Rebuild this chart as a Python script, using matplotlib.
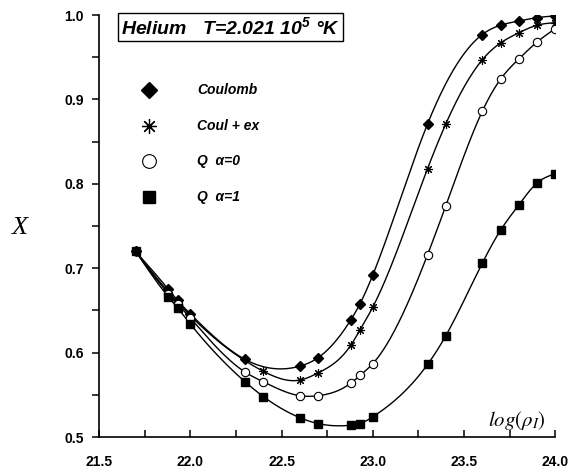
import numpy as np
import matplotlib
matplotlib.use("Agg")
import matplotlib.pyplot as plt
from matplotlib.ticker import MultipleLocator

plt.rcParams['font.family'] = ['Liberation Sans', 'DejaVu Sans']
plt.rcParams['mathtext.fontset'] = 'custom'
plt.rcParams['mathtext.rm'] = 'Liberation Sans:bold:italic'
plt.rcParams['mathtext.it'] = 'Liberation Sans:bold:italic'

# data
x_coul = [21.7, 21.88, 21.93, 22.0, 22.3, 22.6, 22.7, 22.88, 22.93, 23.0,
          23.3, 23.6, 23.7, 23.8, 23.9, 24.0]
y_coul = [0.720, 0.675, 0.662, 0.646, 0.592, 0.584, 0.594, 0.639, 0.658, 0.692,
          0.871, 0.977, 0.988, 0.993, 0.997, 0.999]

x_ex = [21.7, 21.88, 21.93, 22.0, 22.4, 22.6, 22.7, 22.88, 22.93, 23.0,
        23.3, 23.4, 23.6, 23.7, 23.8, 23.9, 24.0]
y_ex = [0.720, 0.672, 0.660, 0.644, 0.578, 0.5675, 0.576, 0.609, 0.627, 0.654,
        0.818, 0.871, 0.947, 0.967, 0.979, 0.988, 0.991]

x_q0 = [21.7, 21.88, 21.93, 22.0, 22.3, 22.4, 22.6, 22.7, 22.88, 22.93, 23.0,
        23.3, 23.4, 23.6, 23.7, 23.8, 23.9, 24.0]
y_q0 = [0.720, 0.670, 0.658, 0.641, 0.577, 0.5655, 0.549, 0.549, 0.564, 0.573, 0.587,
        0.716, 0.774, 0.886, 0.924, 0.948, 0.968, 0.984]

x_q1 = [21.7, 21.88, 21.93, 22.0, 22.3, 22.4, 22.6, 22.7, 22.88, 22.93, 23.0,
        23.3, 23.4, 23.6, 23.7, 23.8, 23.9, 24.0]
y_q1 = [0.720, 0.666, 0.653, 0.634, 0.5655, 0.548, 0.523, 0.516, 0.514, 0.516, 0.524,
        0.586, 0.620, 0.706, 0.745, 0.775, 0.801, 0.812]

labels = ["Coulomb", "Coul + ex", "Q  \u03b1=0", "Q  \u03b1=1"]


def spline(x, y, n=400):
    # natural cubic spline, only used to draw the smooth line
    x = np.asarray(x, float)
    y = np.asarray(y, float)
    k = len(x)
    h = np.diff(x)
    A = np.zeros((k, k))
    b = np.zeros(k)
    A[0, 0] = A[-1, -1] = 1
    for i in range(1, k - 1):
        A[i, i - 1] = h[i - 1]
        A[i, i] = 2 * (h[i - 1] + h[i])
        A[i, i + 1] = h[i]
        b[i] = 6 * ((y[i + 1] - y[i]) / h[i] - (y[i] - y[i - 1]) / h[i - 1])
    m = np.linalg.solve(A, b)
    xs = np.linspace(x[0], x[-1], n)
    j = np.clip(np.searchsorted(x, xs) - 1, 0, k - 2)
    t0 = xs - x[j]
    t1 = x[j + 1] - xs
    hj = h[j]
    ys = (m[j] * t1 ** 3 / (6 * hj) + m[j + 1] * t0 ** 3 / (6 * hj)
          + (y[j] / hj - m[j] * hj / 6) * t1 + (y[j + 1] / hj - m[j + 1] * hj / 6) * t0)
    return xs, ys


fig = plt.figure(figsize=(5.76, 4.72), dpi=100)
ax = fig.add_axes([0.172, 0.074, 0.792, 0.894])

styles = [
    dict(marker='D', ms=5, mfc='black', mec='black'),
    dict(marker=(8, 2, 0), ms=6.5, mfc='none', mec='black', mew=0.8),
    dict(marker='o', ms=6, mfc='white', mec='black', mew=0.8),
    dict(marker='s', ms=5.5, mfc='black', mec='black'),
]
series = [(x_coul, y_coul), (x_ex, y_ex), (x_q0, y_q0), (x_q1, y_q1)]

for (xv, yv), st in zip(series, styles):
    xs, ys = spline(xv, yv)
    ax.plot(xs, ys, color='black', lw=1.0, zorder=2)
for (xv, yv), st in zip(series, styles):
    ax.plot(xv, yv, ls='none', zorder=3, **st)

ax.set_xlim(21.5, 24.0)
ax.set_ylim(0.5, 1.0)
ax.spines['top'].set_visible(False)
ax.spines['right'].set_visible(False)
ax.spines['left'].set_linewidth(1.2)
ax.spines['bottom'].set_linewidth(1.2)

ax.xaxis.set_major_locator(MultipleLocator(0.5))
ax.xaxis.set_minor_locator(MultipleLocator(0.25))
ax.yaxis.set_major_locator(MultipleLocator(0.1))
ax.yaxis.set_minor_locator(MultipleLocator(0.05))
ax.tick_params(axis='x', which='both', direction='in', length=5, width=1.1, pad=13)
ax.tick_params(axis='y', which='both', direction='out', length=5, width=1.1, pad=6)
ax.xaxis.set_major_formatter(plt.FormatStrFormatter('%.1f'))
ax.yaxis.set_major_formatter(plt.FormatStrFormatter('%.1f'))
for lab in ax.get_xticklabels() + ax.get_yticklabels():
    lab.set_fontsize(10)
    lab.set_fontweight('bold')

# title box
ax.text(0.047, 0.972, "Helium   T=2.021 10$^{5}$ \u00b0K", transform=ax.transAxes,
        fontsize=14, fontweight='bold', fontstyle='italic', ha='left', va='center',
        math_fontfamily='custom',
        bbox=dict(boxstyle='square,pad=0.15', fc='white', ec='black', lw=1.0))

# legend, drawn by hand to match the spacing of the original
leg_y = [0.822, 0.738, 0.654, 0.569]
for st, lab, yy in zip(styles, labels, leg_y):
    big = dict(st, ms=st['ms'] * 1.65)
    if st['marker'] == (8, 2, 0):
        big['mew'] = 0.9
    ax.plot([0.11], [yy], transform=ax.transAxes, ls='none', clip_on=False, **big)
    ax.text(0.215, yy, lab, transform=ax.transAxes, fontsize=10, fontweight='bold',
            fontstyle='italic', ha='left', va='center')

# axis labels
fig.text(0.035, 0.517, "X", fontsize=19, family='Liberation Serif', style='italic',
         ha='center', va='center')
ax.text(0.915, 0.04, r"$log(\rho_I)$", transform=ax.transAxes, fontsize=15,
        math_fontfamily='stix', ha='center', va='center')

fig.savefig("out.png", dpi=100)
